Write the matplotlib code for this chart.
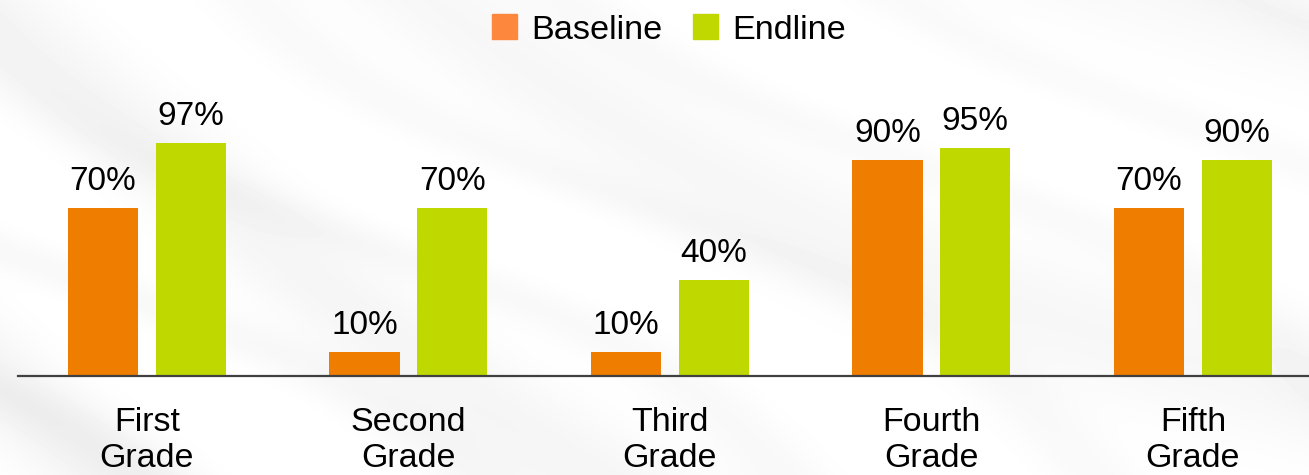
import numpy as np
import matplotlib
matplotlib.use("Agg")
import matplotlib.pyplot as plt
from matplotlib.patches import Patch

plt.rcParams['font.family'] = ['Liberation Sans', 'DejaVu Sans']

grades = ["First\nGrade", "Second\nGrade", "Third\nGrade", "Fourth\nGrade", "Fifth\nGrade"]
baseline = [70, 10, 10, 90, 70]
endline = [97, 70, 40, 95, 90]
series_names = ["Baseline", "Endline"]

bar_orange = "#EF7D00"
bar_green = "#BFD900"
legend_orange = "#FD873C"
legend_green = "#C0D800"

fig = plt.figure(figsize=(13.09, 4.75), dpi=100)

# soft grey streaky backdrop
bg = fig.add_axes([0, 0, 1, 1], zorder=0)
yy, xx = np.mgrid[0:1:475j, 0:1:1309j]
u = xx * 1.4 + (1 - yy) * 0.9
streak = (np.sin(u * 9.0 + 2.2 * np.sin(xx * 3.1)) + 1) / 2
streak2 = (np.sin(u * 17.0 + 1.3 * np.sin(yy * 5.0 + xx * 2.0)) + 1) / 2
shade = 0.045 * streak ** 3 + 0.03 * streak2 ** 4
shade *= 0.4 + 0.6 * (1 - xx * 0.5) * (0.6 + 0.4 * yy)
img = 1.0 - shade
bg.imshow(img, cmap="gray", vmin=0, vmax=1, aspect="auto", extent=[0, 1, 0, 1],
          interpolation="bilinear")
bg.set_axis_off()

ax = fig.add_axes([18 / 1309, 99 / 475, 1 - 18 / 1309, 240 / 475], zorder=1)
ax.patch.set_alpha(0)

x = np.arange(len(grades))
width = 0.268
off = 0.168
b1 = ax.bar(x - off, baseline, width, color=bar_orange, zorder=2)
b2 = ax.bar(x + off, endline, width, color=bar_green, zorder=2)

for bars, vals in ((b1, baseline), (b2, endline)):
    for rect, v in zip(bars, vals):
        ax.annotate(f"{v}%", (rect.get_x() + rect.get_width() / 2, v),
                    xytext=(0, 13), textcoords="offset points",
                    ha="center", va="baseline", fontsize=24, color="black")

ax.set_xlim(-0.493, 4.444)
ax.set_ylim(0, 100)
ax.set_xticks(x)
ax.set_xticklabels(grades, fontsize=24.5, linespacing=1.22)
ax.tick_params(axis="x", length=0, pad=22)
ax.set_yticks([])
for s in ("top", "right", "left"):
    ax.spines[s].set_visible(False)
ax.spines["bottom"].set_color("#404040")
ax.spines["bottom"].set_linewidth(1.6)
ax.spines["bottom"].set_zorder(3)

handles = [Patch(color=legend_orange), Patch(color=legend_green)]
fig.legend(handles, series_names, loc="center", bbox_to_anchor=(669 / 1309, 1 - 30 / 475),
           ncol=2, frameon=False, fontsize=24.7, handlelength=0.73, handleheight=0.73,
           handletextpad=0.43, columnspacing=0.86, borderpad=0, borderaxespad=0)

fig.savefig("out.png", dpi=100)
